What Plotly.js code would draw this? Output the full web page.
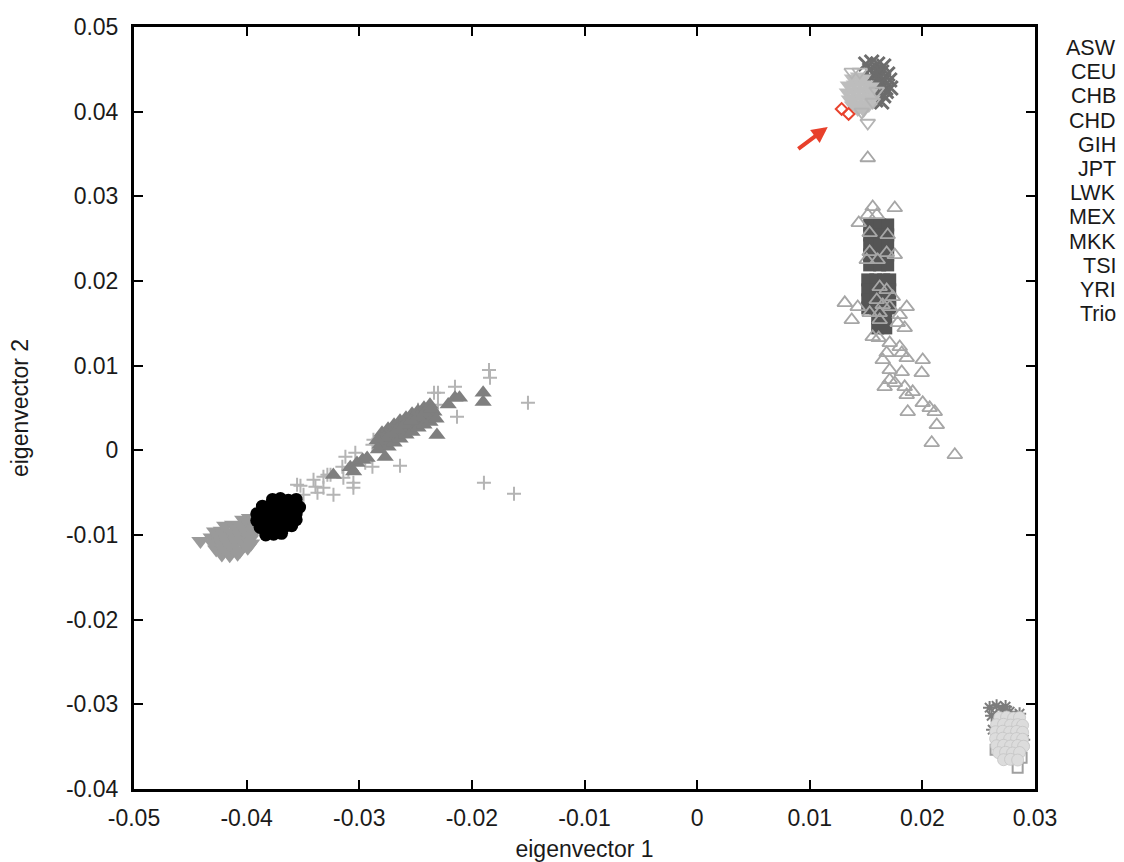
<!DOCTYPE html>
<html>
<head>
<meta charset="utf-8">
<script src="https://cdn.plot.ly/plotly-3.0.1.min.js"></script>
<style>html,body{margin:0;padding:0;background:#fff;}#chart{width:1124px;height:862px;}</style>
</head>
<body>
<div id="chart"></div>
<script>
// ---------- data (eigenvector 1, eigenvector 2) ----------
const POPULATIONS = ['ASW','CEU','CHB','CHD','GIH','JPT','LWK','MEX','MKK','TSI','YRI','Trio'];

const ASW_X = [-0.01848,-0.01839,-0.01502,-0.01893,-0.01626,-0.02150,-0.02336,-0.02301,-0.02132,-0.02301,-0.02478,-0.02416,-0.02638,-0.02874,-0.02883,-0.03123,-0.03035,-0.03150,-0.03097,-0.02883,-0.03318,-0.03255,-0.03406,-0.03389,-0.03522,-0.03495,-0.03371,-0.03318,-0.03229,-0.03052,-0.03052,-0.03141,-0.02947,-0.03552,-0.03283];
const ASW_Y = [0.00950,0.00856,0.00561,-0.00384,-0.00514,0.00750,0.00679,0.00679,0.00396,0.00537,0.00478,0.00455,-0.00183,0.00124,0.00065,-0.00077,-0.00030,-0.00195,-0.00230,-0.00195,-0.00313,-0.00289,-0.00348,-0.00431,-0.00419,-0.00525,-0.00502,-0.00443,-0.00525,-0.00384,-0.00443,-0.00325,-0.00148,-0.00407,-0.00289];

const CEU_X = [0.01497,0.01550,0.01603,0.01657,0.01532,0.01586,0.01639,0.01692,0.01550,0.01603,0.01657,0.01710,0.01568,0.01621,0.01675,0.01719,0.01550,0.01603,0.01657,0.01586,0.01639,0.01580,0.01630,0.01680];
const CEU_Y = [0.04563,0.04587,0.04563,0.04540,0.04492,0.04492,0.04469,0.04445,0.04398,0.04398,0.04374,0.04374,0.04303,0.04303,0.04280,0.04280,0.04209,0.04209,0.04186,0.04138,0.04114,0.04440,0.04340,0.04240];

const CHB_X = [0.02597,0.02659,0.02713,0.02775,0.02863,0.02615,0.02624,0.02899,0.02739];
const CHB_Y = [-0.03040,-0.03017,-0.03064,-0.03087,-0.03111,-0.03135,-0.03300,-0.03418,-0.03028];

const CHD_X = [0.02846,0.02881,0.02650];
const CHD_Y = [-0.03749,-0.03630,-0.03536];

const GIH_X = [0.01532,0.01621,0.01692,0.01532,0.01621,0.01692,0.01532,0.01621,0.01692,0.01532,0.01621,0.01692,0.01532,0.01621,0.01692,
               0.01515,0.01586,0.01657,0.01710,0.01515,0.01586,0.01657,0.01710,0.01515,0.01586,0.01657,0.01710,0.01515,0.01586,0.01657,0.01710,
               0.01603,0.01675,0.01603,0.01675];
const GIH_Y = [0.02662,0.02662,0.02662,0.02544,0.02544,0.02544,0.02426,0.02426,0.02426,0.02308,0.02308,0.02308,0.02190,0.02190,0.02190,
               0.02013,0.02013,0.02013,0.02013,0.01895,0.01895,0.01895,0.01895,0.01777,0.01777,0.01777,0.01777,0.01682,0.01682,0.01682,0.01682,
               0.01564,0.01564,0.01446,0.01446];

const JPT_X = [0.02686,0.02748,0.02810,0.02863,
               0.02659,0.02721,0.02783,0.02846,0.02890,
               0.02650,0.02713,0.02775,0.02837,0.02890,
               0.02650,0.02713,0.02775,0.02837,0.02890,
               0.02659,0.02721,0.02783,0.02846,0.02899,
               0.02677,0.02739,0.02801,0.02863,
               0.02721,0.02783,0.02846];
const JPT_Y = [-0.03158,-0.03150,-0.03162,-0.03155,
               -0.03241,-0.03236,-0.03245,-0.03240,-0.03248,
               -0.03324,-0.03318,-0.03328,-0.03320,-0.03330,
               -0.03406,-0.03400,-0.03410,-0.03404,-0.03412,
               -0.03489,-0.03484,-0.03492,-0.03486,-0.03495,
               -0.03571,-0.03566,-0.03575,-0.03569,
               -0.03654,-0.03650,-0.03658];

const LWK_X = [-0.0377,-0.0370,-0.0363,-0.0356,
               -0.0386,-0.0379,-0.0372,-0.0365,-0.0358,-0.0353,
               -0.0391,-0.0384,-0.0377,-0.0370,-0.0363,-0.0356,
               -0.0391,-0.0384,-0.0377,-0.0370,-0.0363,-0.0356,
               -0.0388,-0.0381,-0.0374,-0.0367,-0.0360,
               -0.0383,-0.0376,-0.0369];
const LWK_Y = [-0.0058,-0.0057,-0.0059,-0.0058,
               -0.0066,-0.0065,-0.0067,-0.0066,-0.0064,-0.0067,
               -0.0075,-0.0074,-0.0076,-0.0075,-0.0073,-0.0075,
               -0.0083,-0.0084,-0.0082,-0.0083,-0.0085,-0.0082,
               -0.0091,-0.0090,-0.0092,-0.0091,-0.0089,
               -0.0100,-0.0099,-0.0098];

const MEX_X = [0.01515,0.01559,0.01755,0.01515,0.01595,0.01435,0.01532,0.01692,0.01532,0.01506,0.01603,0.01683,0.01755,
               0.01621,0.01683,0.01737,0.01311,0.01426,0.01373,0.01595,0.01648,0.01710,0.01861,0.01532,0.01621,0.01799,
               0.01621,0.01781,0.01843,0.01559,0.01612,0.01710,0.01799,0.01683,0.01817,0.01648,0.01861,0.02003,0.01710,
               0.01817,0.01994,0.01710,0.01665,0.01755,0.01843,0.01861,0.01914,0.02003,0.02065,0.02110,0.01870,0.02128,
               0.02083,0.02288];
const MEX_Y = [0.03453,0.02875,0.02863,0.02780,0.02780,0.02686,0.02568,0.02544,0.02344,0.02249,0.02249,0.02332,0.02308,
               0.01930,0.01895,0.01812,0.01742,0.01694,0.01541,0.01777,0.01718,0.01694,0.01694,0.01624,0.01624,0.01600,
               0.01541,0.01505,0.01446,0.01340,0.01328,0.01269,0.01222,0.01151,0.01151,0.01068,0.01092,0.01068,0.00950,
               0.00927,0.00915,0.00832,0.00750,0.00797,0.00750,0.00655,0.00691,0.00561,0.00502,0.00455,0.00455,0.00301,
               0.00089,-0.00053];

const MKK_X = [-0.02815,-0.02762,-0.02709,-0.02656,-0.02603,-0.02549,-0.02496,-0.02443,-0.02390,-0.02337,
               -0.02798,-0.02744,-0.02691,-0.02638,-0.02585,-0.02531,-0.02478,-0.02425,-0.02372,
               -0.02744,-0.02691,-0.02638,-0.02585,-0.02531,-0.02478,-0.02425,-0.02372,-0.02318,
               -0.02780,-0.02720,-0.02660,-0.02600,-0.02540,-0.02480,-0.02420,-0.02360,
               -0.0323,-0.0308,-0.0302,-0.0297,-0.0293,-0.0305,-0.0284,-0.0283,-0.0277,-0.0231,-0.0221,-0.0215,-0.0211,-0.0190,-0.0190];
const MKK_Y = [0.00065,0.00124,0.00171,0.00218,0.00266,0.00301,0.00348,0.00384,0.00419,0.00455,
               0.00207,0.00254,0.00301,0.00348,0.00384,0.00431,0.00466,0.00502,0.00537,
               0.00041,0.00089,0.00136,0.00183,0.00218,0.00266,0.00301,0.00336,0.00372,
               0.00150,0.00200,0.00250,0.00300,0.00350,0.00400,0.00440,0.00490,
               -0.0029,-0.0020,-0.0015,-0.0011,-0.0009,-0.0025,0.0012,0.0001,-0.0008,0.0018,0.0054,0.0062,0.0062,0.0068,0.0057];

const TSI_X = [0.01373,0.01426,0.01479,
               0.01337,0.01390,0.01444,0.01497,0.01550,
               0.01328,0.01382,0.01435,0.01488,0.01542,
               0.01346,0.01399,0.01453,0.01506,0.01559,
               0.01373,0.01426,0.01479,0.01524,
               0.01426,0.01479];
const TSI_Y = [0.04398,0.04421,0.04398,
               0.04315,0.04327,0.04339,0.04327,0.04303,
               0.04232,0.04244,0.04256,0.04244,0.04232,
               0.04150,0.04162,0.04173,0.04162,0.04150,
               0.04079,0.04091,0.04091,0.04067,
               0.04020,0.04009];
const TSI_EDGE_X = [0.01373,0.01444,0.01595,0.01462,0.01515,0.01559];
const TSI_EDGE_Y = [0.04469,0.04469,0.04244,0.03997,0.03866,0.04114];

const YRI_X = [-0.0441,
               -0.0403,-0.0397,-0.0392,
               -0.0419,-0.0412,-0.0405,-0.0398,-0.0391,
               -0.0428,-0.0422,-0.0415,-0.0408,-0.0401,-0.0394,
               -0.0431,-0.0425,-0.0418,-0.0411,-0.0404,-0.0397,
               -0.0430,-0.0423,-0.0416,-0.0409,-0.0402,-0.0396,
               -0.0427,-0.0420,-0.0413,-0.0406,-0.0399,
               -0.0422,-0.0415,-0.0408];
const YRI_Y = [-0.0107,
               -0.0082,-0.0080,-0.0083,
               -0.0089,-0.0088,-0.0090,-0.0087,-0.0091,
               -0.0096,-0.0095,-0.0097,-0.0094,-0.0096,-0.0098,
               -0.0103,-0.0102,-0.0104,-0.0101,-0.0103,-0.0105,
               -0.0110,-0.0109,-0.0111,-0.0108,-0.0112,-0.0110,
               -0.0117,-0.0118,-0.0116,-0.0119,-0.0115,
               -0.0123,-0.0124,-0.0122];

const TRIO_X = [0.01283,0.01345];
const TRIO_Y = [0.04032,0.03973];

// arrow pointing at the trio (head, tail)
const ARROW_HEAD = [0.01160, 0.03819];
const ARROW_TAIL = [0.00885, 0.03548];

// axis ticks
const X_TICKS = [-0.05,-0.04,-0.03,-0.02,-0.01,0,0.01,0.02,0.03];
const X_TICK_TEXT = ['-0.05','-0.04','-0.03','-0.02','-0.01','0','0.01','0.02','0.03'];
const Y_TICKS = [-0.04,-0.03,-0.02,-0.01,0,0.01,0.02,0.03,0.04,0.05];
const Y_TICK_TEXT = ['-0.04','-0.03','-0.02','-0.01','0','0.01','0.02','0.03','0.04','0.05'];

// ---------- traces ----------
function tr(name, x, y, marker, show) {
  return {type:'scatter', mode:'markers', name:name, x:x, y:y, marker:marker,
          showlegend: show !== false, hoverinfo:'x+y+name'};
}
const traces = [
  tr('ASW', ASW_X, ASW_Y, {symbol:'cross-thin-open', size:10, color:'#b4b4b4', line:{color:'#b4b4b4', width:2}}),
  tr('CEU', CEU_X, CEU_Y, {symbol:'x-thin-open', size:14, color:'#6c6c6c', line:{color:'#6c6c6c', width:3}}),
  tr('CHB', CHB_X, CHB_Y, {symbol:'asterisk-open', size:11, color:'#7c7c7c', line:{color:'#7c7c7c', width:2}}),
  tr('CHD', CHD_X, CHD_Y, {symbol:'square-open', size:10, color:'#a0a0a0', line:{color:'#a0a0a0', width:2}}),
  tr('GIH', GIH_X, GIH_Y, {symbol:'square', size:13, color:'#555555', line:{width:0}}),
  tr('JPT', JPT_X, JPT_Y, {symbol:'circle', size:12, color:'#dcdcdc', line:{color:'#c4c4c4', width:0.8}}),
  tr('YRI', YRI_X, YRI_Y, {symbol:'triangle-down', size:16, color:'#9a9a9a', line:{width:0}}),
  tr('LWK', LWK_X, LWK_Y, {symbol:'circle', size:13, color:'#000000', line:{width:0}}),
  tr('MEX', MEX_X, MEX_Y, {symbol:'triangle-up-open', size:13, color:'#a6a6a6', line:{color:'#a6a6a6', width:1.8}}),
  tr('MKK', MKK_X, MKK_Y, {symbol:'triangle-up', size:15, color:'#7f7f7f', line:{width:0}}),
  tr('TSI', TSI_X, TSI_Y, {symbol:'triangle-down', size:14, color:'#bdbdbd', line:{width:0}}),
  tr('TSI', TSI_EDGE_X, TSI_EDGE_Y, {symbol:'triangle-down-open', size:13, color:'#b4b4b4', line:{color:'#b4b4b4', width:1.8}}, false),
  tr('Trio', TRIO_X, TRIO_Y, {symbol:'diamond-open', size:9, color:'#e8432e', line:{color:'#e8432e', width:2}})
];

// ---------- layout ----------
const FONT = 'Liberation Sans, Arial, sans-serif';
const legendAnn = POPULATIONS.map((p, i) => ({
  xref:'paper', yref:'paper', x:1.092, y:(789 - (48 + i*24.2)) / 762,
  xanchor:'right', yanchor:'middle', text:p, showarrow:false,
  font:{family:FONT, size:21.5, color:'#1a1a1a'}
}));
const arrowAnn = {
  xref:'x', yref:'y', axref:'x', ayref:'y',
  x:ARROW_HEAD[0], y:ARROW_HEAD[1], ax:ARROW_TAIL[0], ay:ARROW_TAIL[1],
  text:'', showarrow:true, arrowhead:2, arrowsize:0.8, arrowwidth:4, arrowcolor:'#e8402b'
};

const axisCommon = {
  showline:true, linecolor:'#000', linewidth:3, mirror:'ticks',
  ticks:'inside', ticklen:9, tickwidth:2, tickcolor:'#000',
  showgrid:false, zeroline:false, tickfont:{family:FONT, size:23, color:'#1a1a1a'},
  tickmode:'array'
};
const layout = {
  width:1124, height:862,
  margin:{l:134, r:89, t:27, b:73, pad:0},
  paper_bgcolor:'#fff', plot_bgcolor:'#fff',
  showlegend:false,
  font:{family:FONT, color:'#1a1a1a'},
  xaxis:Object.assign({}, axisCommon, {
    range:[-0.05, 0.03], tickvals:X_TICKS, ticktext:X_TICK_TEXT, ticklabelstandoff:6,
    title:{text:'eigenvector 1', font:{family:FONT, size:23, color:'#1a1a1a'}, standoff:13}
  }),
  yaxis:Object.assign({}, axisCommon, {
    range:[-0.04, 0.05], tickvals:Y_TICKS, ticktext:Y_TICK_TEXT, ticklabelstandoff:8,
    title:{text:'eigenvector 2', font:{family:FONT, size:23, color:'#1a1a1a'}, standoff:31}
  }),
  annotations: legendAnn.concat([arrowAnn])
};
Plotly.newPlot('chart', traces, layout, {displayModeBar:false, staticPlot:true});
</script>
</body>
</html>
